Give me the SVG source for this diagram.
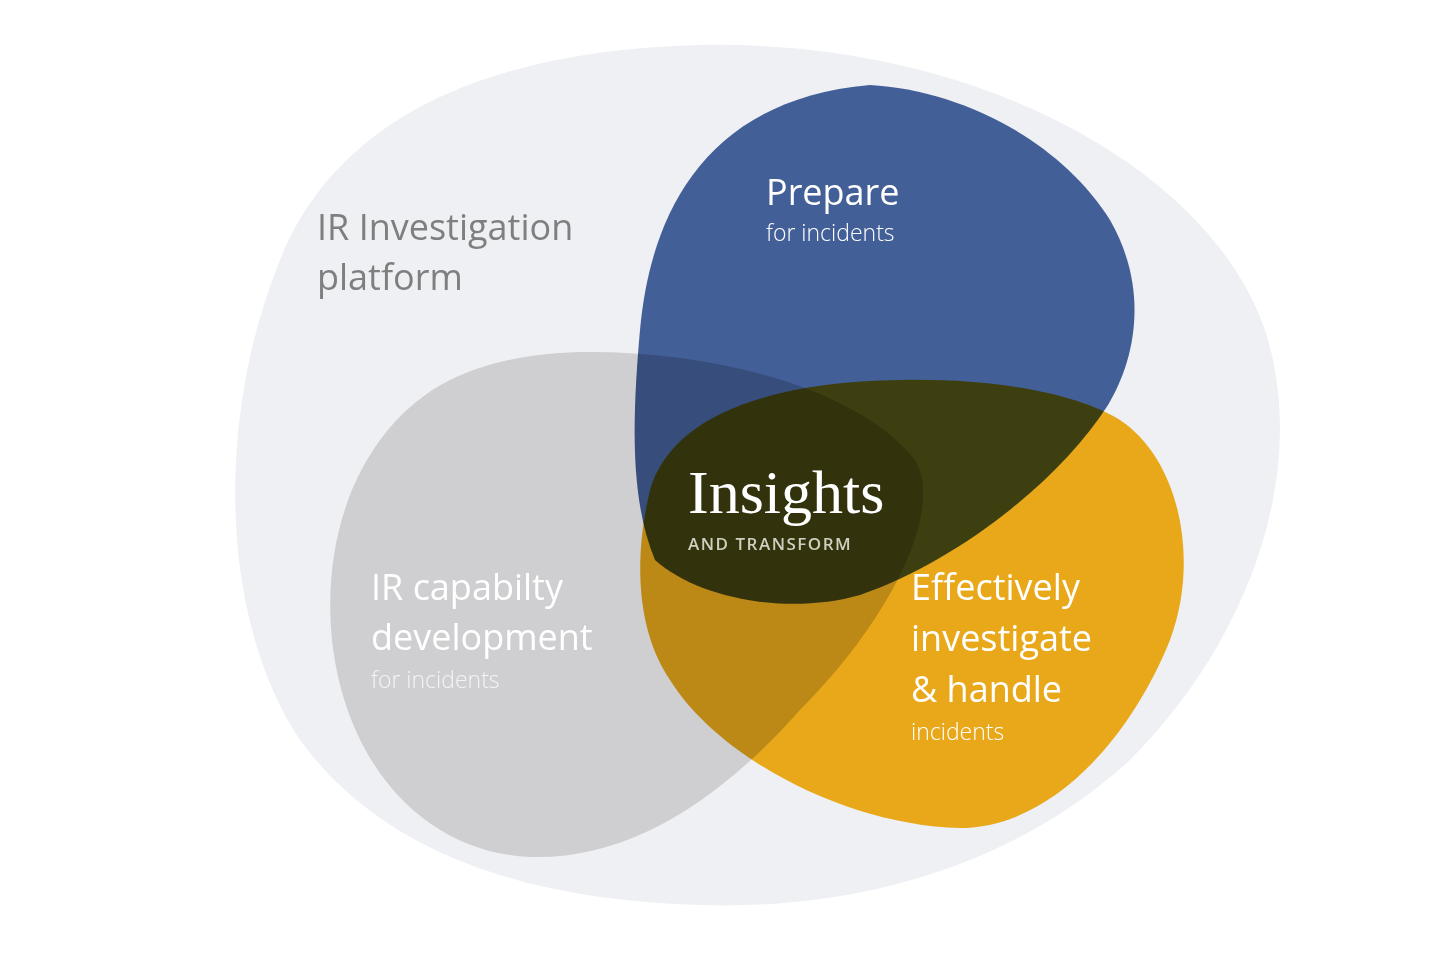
<svg xmlns="http://www.w3.org/2000/svg" width="1440" height="960" viewBox="0 0 1440 960">
<style>
.b{mix-blend-mode:multiply}
.t{font-family:"Open Sans","Noto Sans",sans-serif;fill:#fff}
.s{font-family:"Open Sans","Noto Sans",sans-serif;fill:#fff;font-size:23px;font-weight:300}
</style>
<rect width="1440" height="960" fill="#fff"/>
<g id="platform"><path d="M700,45 C980,40 1210,170 1265,330 C1310,470 1250,640 1130,760 C1010,870 850,910 700,905 C520,900 380,850 300,740 C220,620 215,420 280,260 C340,110 500,50 700,45 Z" fill="#eef0f4"/></g>
<g style="isolation:isolate">
<g id="capability"><path class="b" d="M590,352 C720,352 860,390 915,460 C945,510 890,620 800,710 C720,800 630,860 530,857 C420,852 345,760 332,640 C320,520 370,420 450,380 C490,360 540,352 590,352 Z" fill="#cfcfd1"/></g>
<g id="prepare"><path class="b" d="M870,85 C960,90 1060,140 1110,220 C1150,290 1135,360 1108,405 C1060,480 960,560 860,595 C790,615 700,600 655,560 C630,500 632,420 640,330 C650,220 700,100 870,85 Z" fill="#435f97"/></g>
<g id="investigate"><path class="b" d="M900,380 C1000,378 1080,395 1120,420 C1180,460 1200,560 1170,640 C1130,740 1050,828 960,828 C850,826 720,760 670,680 C630,620 638,540 650,490 C670,420 760,382 900,380 Z" fill="#e8a81a"/></g>
</g>
<g id="labels">
<text class="t" x="317" y="240" font-size="36" style="fill:#7f7f7f">IR Investigation</text>
<text class="t" x="317" y="290" font-size="36" style="fill:#7f7f7f">platform</text>
<text class="t" x="766" y="205" font-size="36">Prepare</text>
<text class="s" x="766" y="241">for incidents</text>
<text x="688" y="513" font-size="62" font-family="'Liberation Serif',serif" fill="#fff">Insights</text>
<text x="688" y="550" font-size="17" font-family="'Open Sans',sans-serif" font-weight="600" letter-spacing="1.5" fill="#cfcfbf">AND TRANSFORM</text>
<text class="t" x="371" y="600" font-size="36">IR capabilty</text>
<text class="t" x="371" y="650" font-size="36">development</text>
<text class="s" x="371" y="688" style="fill:#f4f4f4">for incidents</text>
<text class="t" x="911" y="600" font-size="36">Effectively</text>
<text class="t" x="911" y="651" font-size="36">investigate</text>
<text class="t" x="911" y="702" font-size="36">&amp; handle</text>
<text class="s" x="911" y="740">incidents</text>
</g>
</svg>
